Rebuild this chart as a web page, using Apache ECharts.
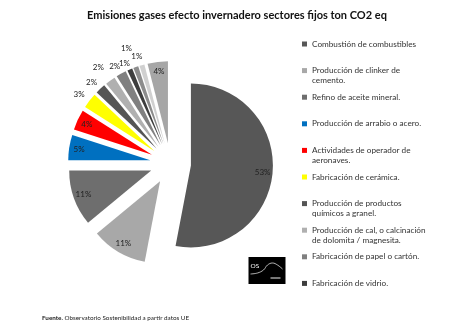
<!DOCTYPE html>
<html>
<head>
<meta charset="utf-8">
<script src="https://cdn.jsdelivr.net/npm/echarts@6/dist/echarts.min.js"></script>
<style>
html,body{margin:0;padding:0;background:#fff;}
#chart{width:474px;height:323px;}
</style>
</head>
<body>
<div id="chart"></div>
<script>
const categories = [
  'Combustión de combustibles',
  'Producción de clinker de cemento.',
  'Refino de aceite mineral.',
  'Producción de arrabio o acero.',
  'Actividades de operador de aeronaves.',
  'Fabricación de cerámica.',
  'Producción de productos químicos a granel.',
  'Producción de cal, o calcinación de dolomita / magnesita.',
  'Fabricación de papel o cartón.',
  'Fabricación de vidrio.',
  'Otros sectores 1',
  'Otros sectores 2',
  'Otros sectores 3'
];
const values = [53, 11, 11, 5, 4, 3, 2, 2, 2, 1, 1, 1, 4];
const legendLabels = [
  'Combustión de combustibles',
  'Producción de clinker de\ncemento.',
  'Refino de aceite mineral.',
  'Producción de arrabio o acero.',
  'Actividades de operador de\naeronaves.',
  'Fabricación de cerámica.',
  'Producción de productos\nquímicos a granel.',
  'Producción de cal, o calcinación\nde dolomita / magnesita.',
  'Fabricación de papel o cartón.',
  'Fabricación de vidrio.'
];
const colors = ['#575757','#a8a8a8','#6e6e6e','#0070c0','#ff0000','#ffff00',
  '#555555','#b0b0b0','#808080','#3d3d3d','#8c8c8c','#d0d0d0','#a6a6a6'];
const titleText = 'Emisiones gases efecto invernadero sectores fijos ton CO2 eq';
const sourceLabel = 'Fuente.';
const sourceText = ' Observatorio Sostenibilidad a partir datos UE';

const FONT = 'Lato';
const LH = 10;           // legend line height
const LEG_TOP = 44;      // centre of first legend icon
const LEG_STEP = 26.6;   // slot height per legend entry
// leader length (invisible) used to stagger the small outside labels
const labelStagger = { 5: 10, 6: 9, 7: 16, 8: 8, 9: 7, 10: 20, 11: 9 };

const mainData = categories.map((n, i) => ({
  name: n, value: values[i], selected: true, itemStyle: { color: colors[i] }
}));
const labelData = categories.map((n, i) => {
  const inside = values[i] >= 4;
  return {
    name: n, value: values[i], selected: true,
    label: { position: inside ? 'inside' : 'outside' },
    labelLine: { length: labelStagger[i] !== undefined ? labelStagger[i] : 6 }
  };
});

const legends = legendLabels.map((lab, i) => {
  const lines = lab.split('\n');
  // keep the icon on the first text line: pad with blank lines above
  const padded = lines.length > 1 ? '\n'.repeat(lines.length - 1) + lab : lab;
  const nLines = 2 * lines.length - 1;
  const centre = LEG_TOP + i * LEG_STEP;
  return {
    orient: 'vertical',
    left: 302,
    top: centre - nLines * LH / 2,
    padding: 0,
    itemWidth: 5,
    itemHeight: 5,
    icon: 'rect',
    selectedMode: false,
    data: [categories[i]],
    formatter: () => padded,
    textStyle: { fontFamily: FONT, fontSize: 8.2, color: '#333', lineHeight: LH }
  };
});

const chart = echarts.init(document.getElementById('chart'), null, { renderer: 'canvas' });
chart.setOption({
  animation: false,
  backgroundColor: '#ffffff',
  title: [{
    text: titleText,
    left: 'center',
    top: 10,
    padding: 0,
    textStyle: { fontFamily: FONT, fontSize: 11, fontWeight: 'bold', color: '#111' }
  }, {
    text: '{b|' + sourceLabel + '}' + sourceText,
    left: 42,
    top: 315,
    padding: 0,
    textStyle: {
      fontFamily: FONT, fontSize: 6.3, fontWeight: 'normal', color: '#222',
      rich: { b: { fontFamily: FONT, fontSize: 6.3, fontWeight: 'bold', color: '#222' } }
    }
  }],
  legend: legends,
  series: [{
    type: 'pie',
    center: [170.5, 163.5],
    radius: [0, 82],
    startAngle: 90,
    clockwise: true,
    selectedMode: 'multiple',
    selectedOffset: 20.5,
    avoidLabelOverlap: false,
    emphasis: { disabled: true },
    label: { show: false },
    labelLine: { show: false },
    itemStyle: { borderWidth: 0 },
    data: mainData
  }, {
    type: 'pie',
    center: [170.5, 163.5],
    radius: [56, 82],
    startAngle: 90,
    clockwise: true,
    selectedMode: 'multiple',
    selectedOffset: 20.5,
    silent: true,
    avoidLabelOverlap: false,
    minShowLabelAngle: 0,
    labelLayout: { hideOverlap: false },
    emphasis: { disabled: true },
    itemStyle: { color: 'rgba(0,0,0,0)', borderWidth: 0 },
    label: {
      show: true,
      formatter: p => p.value + '%',
      fontFamily: FONT, fontSize: 8, color: '#222',
      distanceToLabelLine: -3
    },
    labelLine: { show: false, length: 6, length2: 0 },
    data: labelData
  }],
  graphic: [{
    type: 'group',
    left: 248,
    top: 257,
    children: [
      { type: 'rect', shape: { x: 0, y: 0, width: 37, height: 27 }, style: { fill: '#000' } },
      { type: 'text', x: 2, y: 5, style: { text: 'OS', fill: '#fff', fontSize: 6.5, fontFamily: FONT } },
      { type: 'polyline', shape: { points: [[2,17],[9,16],[15,13],[19,8],[24,6],[29,8],[34,12]], smooth: 0.4 },
        style: { stroke: '#fff', lineWidth: 0.7, fill: null } },
      { type: 'rect', shape: { x: 22, y: 20, width: 10, height: 2 }, style: { fill: '#777' } }
    ]
  }]
});
</script>
</body>
</html>
